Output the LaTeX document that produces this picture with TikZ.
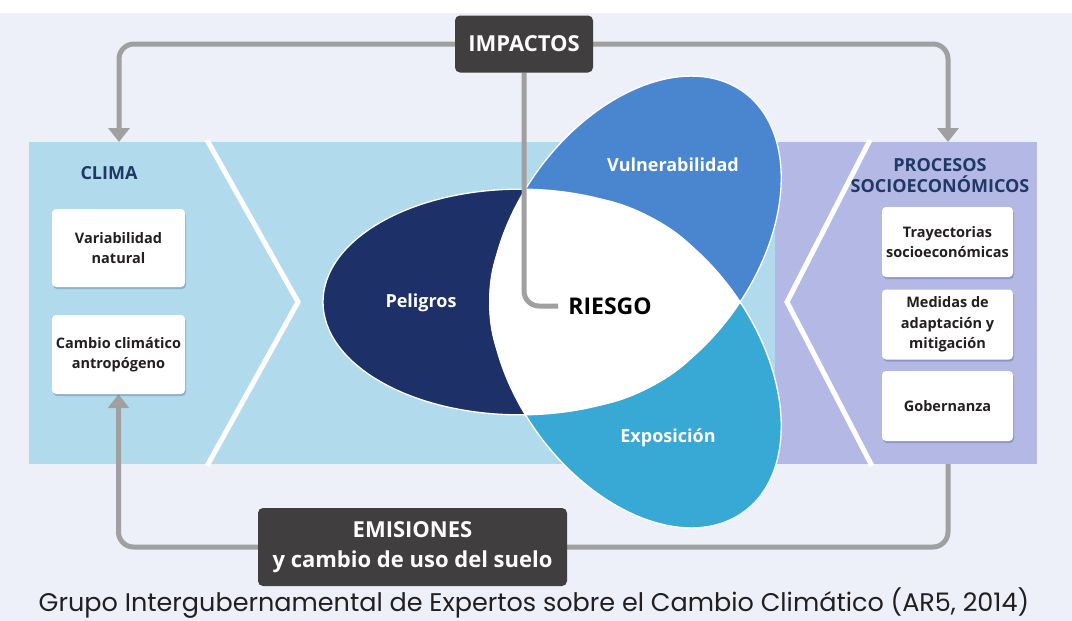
\documentclass[tikz,border=0pt]{standalone}
\usepackage{fontspec}
\setmainfont{Open Sans}
\newfontfamily\capfont{Poppins}
\usetikzlibrary{arrows.meta,shadows}
\pgfdeclarelayer{back}
\pgfdeclarelayer{mid}
\pgfsetlayers{back,mid,main}
\definecolor{bgc}{HTML}{EDF0F8}
\definecolor{bandblue}{HTML}{B1DBEC}
\definecolor{bandlav}{HTML}{B4B8E4}
\definecolor{peli}{HTML}{1D3068}
\definecolor{vuln}{HTML}{4A86CF}
\definecolor{expo}{HTML}{38A9D4}
\definecolor{conn}{HTML}{A0A0A0}
\definecolor{darkbox}{HTML}{403E3F}
\definecolor{navy}{HTML}{1F3864}
\definecolor{txt}{HTML}{231F20}
\tikzset{
  connline/.style={draw=conn, line width=5pt, rounded corners=15pt},
  arrowtip/.style={-{Triangle[width=21pt,length=14pt]}},
  darkbox/.style={fill=darkbox, rounded corners=5pt, text=white, font=\bfseries\fontsize{22}{30}\selectfont, align=center, inner sep=0pt},
  wbox/.style={fill=white, rounded corners=4pt, text=txt, font=\bfseries\fontsize{14.5}{20.5}\selectfont, align=center, inner sep=0pt,
    drop shadow={shadow xshift=1pt, shadow yshift=-2pt, opacity=0.25, fill=navy}},
  leaflabel/.style={text=white, font=\bfseries\fontsize{18}{21}\selectfont},
  headlabel/.style={text=navy, font=\bfseries\fontsize{18}{21}\selectfont, align=center},
  chev/.style={draw=white, line width=5pt},
  leafedge/.style={draw=white, line width=1.3pt}
}
\begin{document}
\begin{tikzpicture}[x=1pt,y=-1pt]
\useasboundingbox (0,0) rectangle (1072,621);
\begin{pgfonlayer}{back}
% background
\fill[white] (0,0) rectangle (1072,13);
\fill[bgc] (0,13) rectangle (1072,621);
% bands
\fill[bandblue] (29,142) rectangle (775,464);
\fill[bandlav] (775,142) rectangle (1037,464);
\draw[chev] (207,140) -- (298,302) -- (207,466);
\draw[chev] (870,140) -- (787,302) -- (872,466);
% leaves
\begin{scope}[shift={(597,302)}, yscale=0.91]
  \fill[peli] (-77,0) ellipse [x radius=197pt, y radius=124pt];
  \fill[vuln, rotate=60] (77,0) ellipse [x radius=197pt, y radius=124pt];
  \fill[expo, rotate=-60] (77,0) ellipse [x radius=197pt, y radius=124pt];
  \begin{scope}
    \clip (-77,0) ellipse [x radius=197pt, y radius=124pt];
    \fill[white, rotate=60] (77,0) ellipse [x radius=197pt, y radius=124pt];
    \fill[white, rotate=-60] (77,0) ellipse [x radius=197pt, y radius=124pt];
  \end{scope}
  \begin{scope}
    \clip[rotate=60] (77,0) ellipse [x radius=197pt, y radius=124pt];
    \fill[white, rotate=-60] (77,0) ellipse [x radius=197pt, y radius=124pt];
  \end{scope}
  \draw[leafedge] (-77,0) ellipse [x radius=197pt, y radius=124pt];
  \draw[leafedge, rotate=60] (77,0) ellipse [x radius=197pt, y radius=124pt];
  \draw[leafedge, rotate=-60] (77,0) ellipse [x radius=197pt, y radius=124pt];
\end{scope}
\end{pgfonlayer}
% leaf labels
\node[leaflabel] (pel) at (421,303) {Peligros};
\node[leaflabel] (vul) at (673,165) {Vulnerabilidad};
\node[leaflabel] (exp) at (668,438) {Exposición};
\node[text=black, font=\bfseries\fontsize{23}{26}\selectfont, inner sep=2pt] (rie) at (610,306) {RIESGO};
% headings
\node[headlabel] (clima) at (109,173) {CLIMA};
\node[headlabel] (proc) at (940,176) {PROCESOS\\SOCIOECONÓMICOS};
% white boxes
\node[wbox, minimum width=133pt, minimum height=78pt] (var) at (118.5,248) {Variabilidad\\natural};
\node[wbox, minimum width=133pt, minimum height=79pt] (cam) at (118.5,354.5) {Cambio climático\\antropógeno};
\node[wbox, minimum width=131pt, minimum height=70pt] (tra) at (947.5,242) {Trayectorias\\socioeconómicas};
\node[wbox, minimum width=131pt, minimum height=70pt] (med) at (947.5,324.5) {Medidas de\\adaptación y\\mitigación};
\node[wbox, minimum width=131pt, minimum height=70pt] (gob) at (947.5,406) {Gobernanza};
% dark boxes
\node[darkbox, minimum width=138pt, minimum height=57pt] (imp) at (524,44) {IMPACTOS};
\node[darkbox, minimum width=309pt, minimum height=78pt] (emi) at (412.5,547) {EMISIONES\\y cambio de uso del suelo};
% connector anchors
\coordinate (climatop) at (119,142);
\coordinate (proctop) at (948,142);
\coordinate (procbot) at (948,464);
% connectors
\begin{pgfonlayer}{mid}
\draw[connline, arrowtip] (imp.west) -| (climatop);
\draw[connline, arrowtip] (imp.east) -| (proctop);
\draw[connline, shorten >=8pt] (imp.south) |- (rie.west);
\draw[connline, arrowtip] (emi.west) -| (cam.south);
\draw[connline] (procbot) |- (emi.east);
\end{pgfonlayer}
% caption
\node[text=txt, font=\capfont\fontsize{25.5}{28}\selectfont] (cap) at (534,603) {Grupo Intergubernamental de Expertos sobre el Cambio Climático (AR5, 2014)};
\end{tikzpicture}
\end{document}
